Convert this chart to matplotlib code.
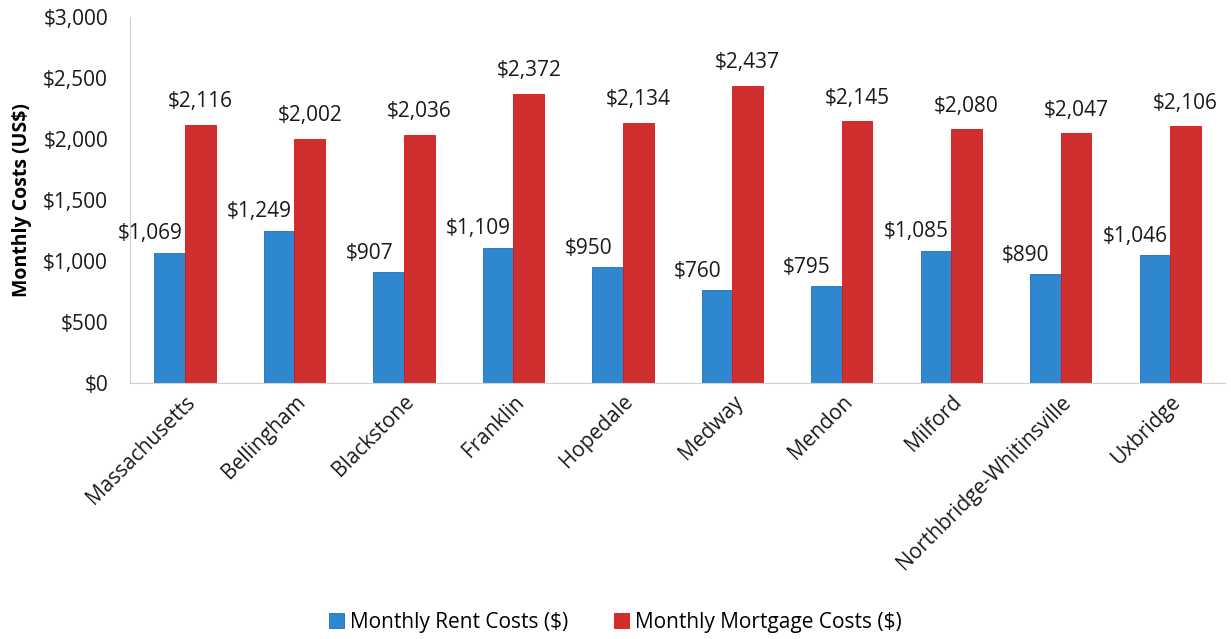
import matplotlib
matplotlib.use("Agg")
import matplotlib.pyplot as plt
import numpy as np
from matplotlib.ticker import FuncFormatter

plt.rcParams['font.family'] = ['Open Sans', 'DejaVu Sans']

categories = ["Massachusetts", "Bellingham", "Blackstone", "Franklin", "Hopedale",
              "Medway", "Mendon", "Milford", "Northbridge-Whitinsville", "Uxbridge"]
rent = [1069, 1249, 907, 1109, 950, 760, 795, 1085, 890, 1046]
mortgage = [2116, 2002, 2036, 2372, 2134, 2437, 2145, 2080, 2047, 2106]
series_names = ["Monthly Rent Costs ($)", "Monthly Mortgage Costs ($)"]
y_ticks = [0, 500, 1000, 1500, 2000, 2500, 3000]

blue = "#2F87CF"
red = "#CF2F2F"

fig = plt.figure(figsize=(12.31, 6.39), dpi=100)
ax = fig.add_axes([0.1058, 0.4006, 0.8893, 0.5728])

x = np.arange(len(categories))
w = 0.28
b1 = ax.bar(x - w/2, rent, w, color=blue, edgecolor="#1F6FB8", linewidth=0.6, label=series_names[0])
b2 = ax.bar(x + w/2, mortgage, w, color=red, edgecolor="#E01010", linewidth=0.6, label=series_names[1])

for xi, v in zip(x - w/2, rent):
    ax.annotate(f"${v:,}", (xi, v), xytext=(-14, 6), textcoords="offset points",
                ha="center", va="bottom", fontsize=15, color="#1a1a1a")
for xi, v in zip(x + w/2, mortgage):
    ax.annotate(f"${v:,}", (xi, v), xytext=(0, 9), textcoords="offset points",
                ha="center", va="bottom", fontsize=15, color="#1a1a1a")

ax.set_xlim(-0.5, len(categories) - 0.5)
ax.set_ylim(0, 3000)
ax.set_yticks(y_ticks)
ax.yaxis.set_major_formatter(FuncFormatter(lambda v, p: f"${int(v):,}"))
ax.set_xticks(x)
ax.set_xticklabels(categories, rotation=45, ha="right", rotation_mode="anchor", fontsize=15)
ax.tick_params(axis="y", labelsize=15, length=0, pad=16, labelcolor="#1a1a1a")
ax.tick_params(axis="x", length=0, pad=6, labelcolor="#1a1a1a")
ax.set_ylabel("Monthly Costs (US$)", fontsize=14, fontweight="bold", labelpad=8)

for s in ["top", "right"]:
    ax.spines[s].set_visible(False)
ax.spines["left"].set_color("#d0d0d0")
ax.spines["bottom"].set_color("#d0d0d0")

fig.legend(handles=[b1, b2], loc="center", bbox_to_anchor=(0.5, 0.026), ncol=2,
           frameon=False, fontsize=15, handlelength=0.7, handleheight=0.7,
           columnspacing=2.2, handletextpad=0.3)

fig.savefig("out.png", dpi=100)
